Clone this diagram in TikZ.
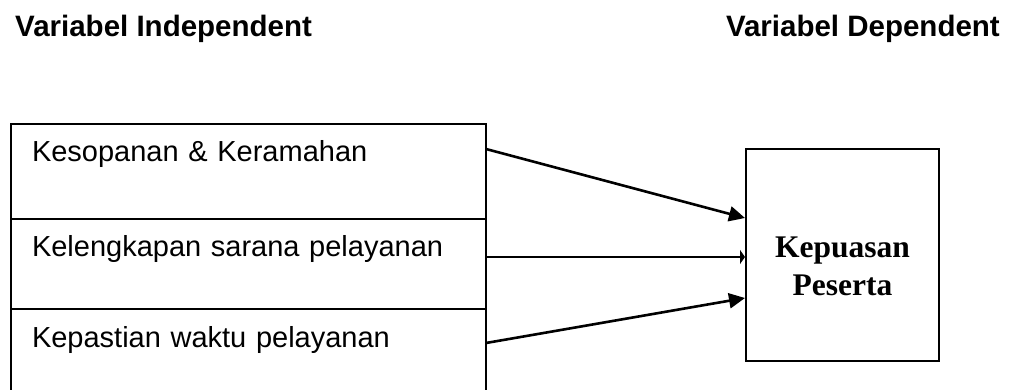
\documentclass[tikz,border=0pt]{standalone}
\usepackage{fontspec}
\setmainfont{Liberation Sans}
\newfontfamily\serifbold{Liberation Serif}
\usetikzlibrary{arrows.meta}

\begin{document}
\begin{tikzpicture}[x=1pt,y=1pt,
    headtxt/.style={inner sep=0pt, font=\bfseries\fontsize{29.5}{34}\selectfont},
    varbox/.style={draw, line width=2pt, outer sep=0pt, anchor=north west, inner xsep=21pt, inner ysep=0pt,
        text width=433pt, align=left, text height=38pt, font=\fontsize{29}{34}\selectfont},
    outbox/.style={draw, line width=2pt, minimum width=193pt, minimum height=212pt},
    arrowline/.style={line width=2.6pt, -{Triangle[length=16pt,width=15pt]}}]

    % Fix the picture size and cut off the open bottom row
    \useasboundingbox (0,0) rectangle (1013,389);
    \clip (0,0) rectangle (1013,389);

    % Headings
    \node[headtxt, anchor=base west] (indep) at (15,352) {Variabel Independent};
    \node[headtxt, anchor=base east] (dep) at (1000,352) {Variabel Dependent};

    % Independent variables, stacked
    \node[varbox, text depth=57pt] (kes) at (11,265) {Kesopanan \& Keramahan};
    \node[varbox, text depth=52pt] (kel) at (kes.south west) {Kelengkapan sarana pelayanan};
    \node[varbox, text depth=60pt] (kep) at (kel.south west) {Kepastian waktu pelayanan};

    % Dependent variable
    \node[outbox, label={[font=\serifbold\bfseries\fontsize{31.5}{38}\selectfont, align=center, yshift=-11.5pt]center:Kepuasan\\Peserta}] (kp) at (842.5,134) {};

    % Arrows into the dependent box
    \draw[arrowline] ([yshift=13pt]kes.base east) -- ([yshift=37pt]kp.west);
    \draw[line width=2.6pt, -{Triangle[length=5pt,width=14pt]}] (kel.base east) -- (kel.base east -| kp.west);
    \draw[arrowline] ([yshift=4pt]kep.base east) -- ([yshift=-43pt]kp.west);

\end{tikzpicture}
\end{document}
